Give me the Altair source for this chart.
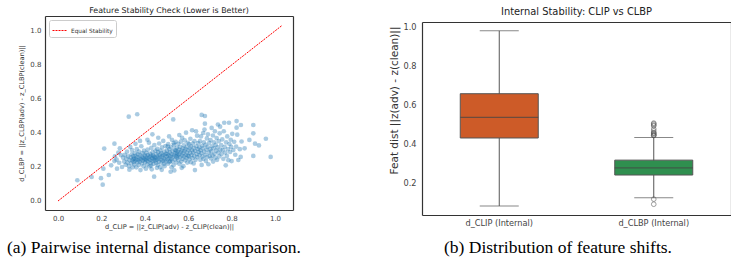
import altair as alt
import pandas as pd

# Per-sample internal distances (one entry per adversarial sample)
d_clip = [
    0.089, 0.155, 0.198, 0.206, 0.209, 0.234, 0.260, 0.213, 0.260, 0.278, 0.326, 0.365, 0.378, 0.435,
    0.245, 0.262, 0.270, 0.282, 0.290, 0.295, 0.285, 0.300, 0.272,
    0.305, 0.308, 0.312, 0.315, 0.318, 0.320, 0.323, 0.327, 0.330, 0.333, 0.335, 0.337, 0.340, 0.342, 0.344, 0.346, 0.348, 0.341, 0.329, 0.349,
    0.351, 0.352, 0.354, 0.356, 0.358, 0.360, 0.361, 0.363, 0.365, 0.366, 0.368, 0.370, 0.372, 0.373, 0.375,
    0.377, 0.379, 0.380, 0.382, 0.384, 0.386, 0.387, 0.389, 0.391, 0.393, 0.394, 0.396, 0.398, 0.399, 0.357,
    0.401, 0.402, 0.404, 0.405, 0.407, 0.408, 0.410, 0.411, 0.413, 0.414, 0.416, 0.418, 0.419, 0.421, 0.422,
    0.424, 0.425, 0.427, 0.428, 0.430, 0.432, 0.433, 0.435, 0.436, 0.438, 0.440, 0.441, 0.443, 0.444, 0.446,
    0.447, 0.449, 0.412, 0.429, 0.439,
    0.451, 0.452, 0.454, 0.455, 0.457, 0.458, 0.460, 0.461, 0.463, 0.465, 0.466, 0.468, 0.469, 0.471, 0.472,
    0.474, 0.476, 0.477, 0.479, 0.480, 0.482, 0.484, 0.485, 0.487, 0.488, 0.490, 0.492, 0.493, 0.495, 0.497,
    0.498, 0.462, 0.478, 0.491, 0.456,
    0.501, 0.502, 0.504, 0.505, 0.507, 0.508, 0.510, 0.511, 0.513, 0.514, 0.516, 0.518, 0.519, 0.521, 0.522,
    0.524, 0.525, 0.527, 0.528, 0.530, 0.531, 0.532, 0.534, 0.535, 0.536, 0.538, 0.539, 0.541, 0.542, 0.544,
    0.545, 0.547, 0.548, 0.549, 0.512, 0.523, 0.533, 0.543, 0.517, 0.506,
    0.551, 0.552, 0.554, 0.555, 0.557, 0.558, 0.559, 0.560, 0.562, 0.563, 0.565, 0.566, 0.568, 0.569, 0.571,
    0.572, 0.574, 0.575, 0.577, 0.578, 0.580, 0.581, 0.583, 0.584, 0.586, 0.587, 0.589, 0.590, 0.592, 0.593,
    0.595, 0.596, 0.598, 0.599, 0.570,
    0.601, 0.603, 0.604, 0.606, 0.607, 0.609, 0.610, 0.612, 0.613, 0.615, 0.617, 0.618, 0.620, 0.621, 0.623,
    0.625, 0.626, 0.628, 0.629, 0.631, 0.632, 0.634, 0.636, 0.637, 0.639, 0.641, 0.642, 0.644, 0.646, 0.648,
    0.651, 0.652, 0.654, 0.656, 0.657, 0.659, 0.660, 0.662, 0.662, 0.664, 0.666, 0.667, 0.669, 0.670, 0.672,
    0.674, 0.675, 0.677, 0.677, 0.679, 0.680, 0.682, 0.684, 0.686, 0.687, 0.689, 0.691, 0.693, 0.695, 0.697, 0.699,
    0.701, 0.703, 0.705, 0.706, 0.708, 0.710, 0.712, 0.714, 0.715, 0.717, 0.719, 0.721, 0.723, 0.725, 0.727,
    0.729, 0.731, 0.733, 0.735, 0.737, 0.739, 0.741, 0.743, 0.745, 0.747, 0.748,
    0.752, 0.754, 0.757, 0.759, 0.762, 0.764, 0.766, 0.768, 0.771, 0.773, 0.775, 0.778, 0.780, 0.783, 0.785,
    0.788, 0.790, 0.793, 0.796, 0.798,
    0.800, 0.803, 0.808, 0.812, 0.817, 0.821, 0.823, 0.823, 0.826, 0.831, 0.838, 0.842, 0.843, 0.846,
    0.860, 0.882, 0.900, 0.900, 0.900, 0.908, 0.926, 0.958, 0.980,
]
d_clbp = [
    0.122, 0.141, 0.134, 0.096, 0.190, 0.153, 0.235, 0.308, 0.337, 0.284, 0.496, 0.510, 0.353, 0.392,
    0.210, 0.262, 0.243, 0.225, 0.270, 0.200, 0.310, 0.255, 0.190,
    0.232, 0.271, 0.213, 0.248, 0.290, 0.226, 0.262, 0.205, 0.240, 0.318, 0.256, 0.222, 0.275, 0.238, 0.198, 0.262, 0.246, 0.300, 0.184, 0.229,
    0.252, 0.214, 0.281, 0.236, 0.265, 0.244, 0.198, 0.305, 0.258, 0.227, 0.274, 0.240, 0.212, 0.290, 0.250,
    0.232, 0.268, 0.182, 0.246, 0.322, 0.259, 0.221, 0.281, 0.237, 0.253, 0.205, 0.296, 0.244, 0.270, 0.336,
    0.228, 0.262, 0.245, 0.190, 0.283, 0.238, 0.255, 0.215, 0.302, 0.270, 0.232, 0.249, 0.343, 0.260, 0.204,
    0.278, 0.241, 0.225, 0.265, 0.312, 0.186, 0.252, 0.234, 0.287, 0.270, 0.218, 0.246, 0.143, 0.329, 0.258,
    0.237, 0.296, 0.360, 0.208, 0.262,
    0.252, 0.224, 0.275, 0.241, 0.306, 0.263, 0.212, 0.287, 0.249, 0.232, 0.338, 0.270, 0.258, 0.199, 0.296,
    0.244, 0.281, 0.226, 0.315, 0.262, 0.237, 0.271, 0.353, 0.250, 0.218, 0.290, 0.266, 0.242, 0.323, 0.278,
    0.231, 0.372, 0.183, 0.205, 0.195,
    0.262, 0.296, 0.245, 0.278, 0.219, 0.334, 0.268, 0.251, 0.305, 0.229, 0.286, 0.262, 0.172, 0.316, 0.247,
    0.274, 0.360, 0.233, 0.292, 0.259, 0.480, 0.210, 0.328, 0.270, 0.180, 0.301, 0.244, 0.283, 0.348, 0.262,
    0.226, 0.312, 0.277, 0.254, 0.380, 0.198, 0.340, 0.297, 0.235, 0.320,
    0.289, 0.265, 0.336, 0.241, 0.302, 0.275, 0.388, 0.218, 0.318, 0.258, 0.286, 0.349, 0.232, 0.296, 0.268,
    0.372, 0.248, 0.310, 0.281, 0.205, 0.327, 0.262, 0.294, 0.356, 0.239, 0.305, 0.272, 0.402, 0.254, 0.318,
    0.285, 0.226, 0.342, 0.266, 0.195,
    0.298, 0.262, 0.335, 0.245, 0.310, 0.282, 0.366, 0.228, 0.322, 0.270, 0.298, 0.416, 0.252, 0.338, 0.286,
    0.221, 0.312, 0.265, 0.352, 0.182, 0.295, 0.242, 0.410, 0.322, 0.276, 0.384, 0.258, 0.305, 0.340, 0.288,
    0.315, 0.268, 0.352, 0.242, 0.298, 0.380, 0.282, 0.506, 0.212, 0.325, 0.262, 0.310, 0.400, 0.248, 0.345,
    0.290, 0.420, 0.500, 0.455, 0.272, 0.330, 0.235, 0.302, 0.368, 0.258, 0.318, 0.392, 0.216, 0.285, 0.342, 0.265,
    0.305, 0.358, 0.250, 0.292, 0.430, 0.322, 0.268, 0.385, 0.232, 0.310, 0.345, 0.278, 0.410, 0.255, 0.330,
    0.296, 0.370, 0.242, 0.315, 0.450, 0.285, 0.352, 0.262, 0.398, 0.437, 0.302,
    0.328, 0.276, 0.362, 0.300, 0.248, 0.410, 0.460, 0.318, 0.285, 0.210, 0.345, 0.265, 0.380, 0.305, 0.240,
    0.460, 0.335, 0.288, 0.360, 0.318,
    0.235, 0.395, 0.300, 0.348, 0.272, 0.320, 0.470, 0.431, 0.390, 0.241, 0.305, 0.259, 0.447, 0.350,
    0.310, 0.359, 0.447, 0.398, 0.265, 0.337, 0.327, 0.366, 0.259,
]

# Reference diagonal (equal stability) and its legend entry
diag_ends = [0.0, 1.03]
diag_label = "Equal Stability"

# Box-plot summary of the two distance distributions
box_groups = ["d_CLIP (Internal)", "d_CLBP (Internal)"]
box_colors = ["#cd5b28", "#2f8f4f"]
whisker_low = [0.087, 0.129]
q1 = [0.434, 0.245]
median = [0.539, 0.282]
q3 = [0.660, 0.321]
whisker_high = [0.981, 0.437]

tick_vals_a = [0.0, 0.2, 0.4, 0.6, 0.8, 1.0]
tick_vals_b = [0.2, 0.4, 0.6, 0.8, 1.0]

caption_a = "(a) Pairwise internal distance comparison."
caption_b = "(b) Distribution of feature shifts."

FONT = "DejaVu Sans"
FRAME = "#333333"

scatter_df = pd.DataFrame({"d_clip": d_clip, "d_clbp": d_clbp})
diag_df = pd.DataFrame({"x": diag_ends, "y": diag_ends, "series": [diag_label] * len(diag_ends)})

x_scale_a = alt.Scale(domain=[-0.06, 1.083], nice=False, zero=False)
y_scale_a = alt.Scale(domain=[-0.053, 1.088], nice=False, zero=False)

frame_axis = dict(labels=False, ticks=False, title=None, grid=False,
                  domainColor=FRAME, domainWidth=1.2)

points = alt.Chart(scatter_df).mark_circle(size=22, opacity=0.38, color="#1f77b4").encode(
    x=alt.X("d_clip:Q", scale=x_scale_a, axis=alt.Axis(
        values=tick_vals_a, format=".1f", title="d_CLIP = ||z_CLIP(adv) - z_CLIP(clean)||",
        labelFontSize=7, titleFontSize=6.6, labelPadding=4, titlePadding=2,
        domainColor=FRAME, domainWidth=1.2)),
    y=alt.Y("d_clbp:Q", scale=y_scale_a, axis=alt.Axis(
        values=tick_vals_a, format=".1f", title="d_CLBP = ||z_CLBP(adv) - z_CLBP(clean)||",
        labelFontSize=7, titleFontSize=6.6, labelPadding=4, titlePadding=5,
        domainColor=FRAME, domainWidth=1.2)),
)

diag = alt.Chart(diag_df).mark_line(strokeDash=[2, 1], strokeWidth=1).encode(
    x=alt.X("x:Q", scale=x_scale_a, axis=alt.Axis(orient="top", **frame_axis)),
    y=alt.Y("y:Q", scale=y_scale_a, axis=alt.Axis(orient="right", **frame_axis)),
    color=alt.Color("series:N", scale=alt.Scale(domain=[diag_label], range=["#ff0000"]),
                    legend=alt.Legend(title=None, orient="top-left", offset=4, padding=3,
                                      fillColor="white", strokeColor="#cccccc", cornerRadius=2,
                                      labelFontSize=5.8, labelFont=FONT, labelColor="#333333",
                                      symbolType="stroke", symbolSize=196, symbolStrokeWidth=1,
                                      symbolDash=[2, 1], labelOffset=4)),
)

cap_a = alt.Chart(pd.DataFrame({"t": [caption_a]})).mark_text(
    align="left", baseline="middle", font="Liberation Serif", fontSize=17.5, color="black"
).encode(x=alt.value(-38), y=alt.value(232), text="t:N")

left = alt.layer(points, diag, cap_a).resolve_axis(x="independent", y="independent").properties(
    width=248, height=194,
    title=alt.TitleParams("Feature Stability Check (Lower is Better)", fontSize=7.9, offset=1),
)

# Box plot panel
stats_df = pd.DataFrame({"group": box_groups, "lo": whisker_low, "q1": q1,
                         "med": median, "q3": q3, "hi": whisker_high})
outlier_vals = [v for v in d_clbp if v > whisker_high[1] or v < whisker_low[1]]
outlier_df = pd.DataFrame({"group": [box_groups[1]] * len(outlier_vals), "value": outlier_vals})

x_scale_b = alt.Scale(domain=box_groups, paddingInner=0, paddingOuter=0)
y_scale_b = alt.Scale(domain=[0.041, 1.026], nice=False, zero=False, range=[199, 6])

whiskers = alt.Chart(stats_df).mark_rule(color="#555555", strokeWidth=1).encode(
    x=alt.X("group:N", scale=x_scale_b, axis=alt.Axis(
        title=None, labelAngle=0, labelFontSize=8.2, labelPadding=4.5,
        domainColor=FRAME, domainWidth=1.2)),
    y=alt.Y("lo:Q", scale=y_scale_b, axis=alt.Axis(
        values=tick_vals_b, format=".1f", title="Feat dist ||z(adv) - z(clean)||",
        labelFontSize=8.2, titleFontSize=10.5, labelPadding=6, titlePadding=3, titleY=84,
        domainColor=FRAME, domainWidth=1.2)),
    y2="hi:Q",
)
caps_lo = alt.Chart(stats_df).mark_tick(color="#555555", size=39, thickness=1).encode(
    x=alt.X("group:N", scale=x_scale_b, axis=None), y=alt.Y("lo:Q", scale=y_scale_b, axis=None))
caps_hi = alt.Chart(stats_df).mark_tick(color="#555555", size=39, thickness=1).encode(
    x=alt.X("group:N", scale=x_scale_b, axis=None), y=alt.Y("hi:Q", scale=y_scale_b, axis=None))
boxes = alt.Chart(stats_df).mark_bar(size=78, stroke="#555555", strokeWidth=1).encode(
    x=alt.X("group:N", scale=x_scale_b, axis=alt.Axis(orient="top", offset=-6, **frame_axis)),
    y=alt.Y("q1:Q", scale=y_scale_b, axis=alt.Axis(orient="right", **frame_axis)),
    y2="q3:Q",
    color=alt.Color("group:N", scale=alt.Scale(domain=box_groups, range=box_colors), legend=None),
)
medians = alt.Chart(stats_df).mark_tick(color="#444444", size=78, thickness=1.2).encode(
    x=alt.X("group:N", scale=x_scale_b, axis=None), y=alt.Y("med:Q", scale=y_scale_b, axis=None))
fliers = alt.Chart(outlier_df).mark_point(shape="circle", filled=False, size=22,
                                           color="#555555", strokeWidth=0.8).encode(
    x=alt.X("group:N", scale=x_scale_b, axis=None), y=alt.Y("value:Q", scale=y_scale_b, axis=None))

cap_b = alt.Chart(pd.DataFrame({"t": [caption_b]})).mark_text(
    align="left", baseline="middle", font="Liberation Serif", fontSize=17.5, color="black"
).encode(x=alt.value(22), y=alt.value(232), text="t:N")

right = alt.layer(whiskers, caps_lo, caps_hi, boxes, medians, fliers, cap_b).resolve_axis(
    x="independent", y="independent").properties(
    width=309, height=199,
    title=alt.TitleParams("Internal Stability: CLIP vs CLBP", fontSize=9.9, offset=-1),
)

chart = alt.hconcat(left, right, spacing=88).resolve_scale(color="independent").properties(
    padding={"left": 7, "top": 7, "right": 0, "bottom": 0}
).configure_view(strokeWidth=0).configure_axis(
    labelFont=FONT, titleFont=FONT, titleFontWeight="normal", grid=False,
    ticks=False, tickSize=0, labelColor="#444444", titleColor="#333333",
).configure_title(font=FONT, fontWeight="normal", color="#222222")

chart.save("out.html", embed_options={"renderer": "svg", "actions": False})
